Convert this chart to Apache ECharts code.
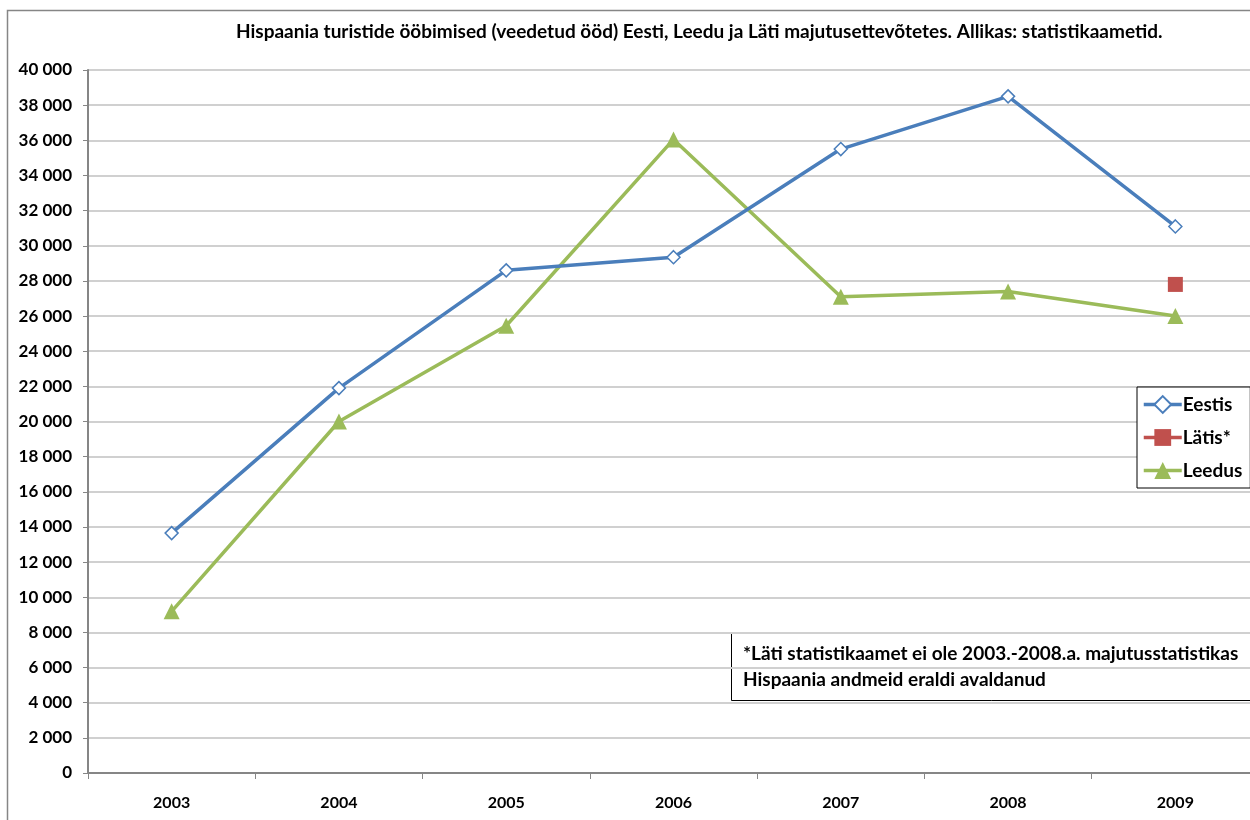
<!DOCTYPE html>
<html>
<head>
<meta charset="utf-8">
<script src="https://cdn.jsdelivr.net/npm/echarts@6/dist/echarts.min.js"></script>
<style>
  html, body { margin: 0; padding: 0; background: #fff; }
  #chart { width: 1250px; height: 820px; }
</style>
</head>
<body>
<div id="chart"></div>
<script>
  // data
  var years = ['2003', '2004', '2005', '2006', '2007', '2008', '2009'];
  var eestis = [13650, 21900, 28600, 29350, 35500, 38500, 31100];
  var latis = [null, null, null, null, null, null, 27800];
  var leedus = [9200, 20000, 25450, 36050, 27100, 27400, 26000];

  var titleText = 'Hispaania turistide ööbimised (veedetud ööd) Eesti, Leedu ja Läti majutusettevõtetes. Allikas: statistikaametid.';
  var noteLines = ['*Läti statistikaamet ei ole 2003.-2008.a. majutusstatistikas', 'Hispaania andmeid eraldi avaldanud'];

  var font = 'Lato, "Noto Sans", sans-serif';

  var myChart = echarts.init(document.getElementById('chart'));
  var option = {
    backgroundColor: '#fff',
    animation: false,
    textStyle: { fontFamily: font },
    title: {
      text: titleText,
      left: 231,
      top: 17,
      textStyle: { fontSize: 19, fontWeight: 'bold', color: '#000', fontFamily: font }
    },
    legend: {
      orient: 'vertical',
      left: 1137,
      top: 387,
      width: 130,
      padding: [8, 8, 8, 5],
      itemGap: 14,
      itemWidth: 38,
      itemHeight: 21,
      borderColor: '#000',
      borderWidth: 1,
      backgroundColor: '#fff',
      lineStyle: { width: 3.5 },
      textStyle: { fontSize: 19, fontWeight: 'bold', color: '#000', fontFamily: font, padding: [0, 0, 0, -4] },
      data: ['Eestis', 'Lätis*', 'Leedus']
    },
    grid: {
      left: 88,
      top: 70,
      width: 1171,
      height: 703,
      outerBoundsMode: 'none',
      containLabel: false
    },
    xAxis: {
      type: 'category',
      data: years,
      boundaryGap: true,
      axisLine: { lineStyle: { color: '#868686', width: 2 } },
      axisTick: { show: true, length: 6, lineStyle: { color: '#868686' } },
      axisLabel: { fontSize: 16, fontWeight: 'bold', color: '#000', margin: 22, fontFamily: font },
      splitLine: { show: false }
    },
    yAxis: {
      type: 'value',
      min: 0,
      max: 40000,
      interval: 2000,
      axisLine: { show: true, lineStyle: { color: '#868686', width: 2 } },
      axisTick: { show: true, length: 5, lineStyle: { color: '#868686' } },
      axisLabel: {
        fontSize: 17,
        fontWeight: 'bold',
        color: '#000',
        margin: 16,
        fontFamily: font,
        formatter: function (v) {
          return String(v).replace(/\B(?=(\d{3})+(?!\d))/g, ' ');
        }
      },
      splitLine: { show: true, lineStyle: { color: '#d0d0d0', width: 2 } }
    },
    series: [
      {
        name: 'Eestis',
        type: 'line',
        data: eestis,
        color: '#4A7EBB',
        symbol: 'diamond',
        symbolSize: 13,
        showAllSymbol: true,
        lineStyle: { width: 3.5, color: '#4A7EBB' },
        itemStyle: { color: '#fff', borderColor: '#4A7EBB', borderWidth: 1.5 },
        z: 3
      },
      {
        name: 'Lätis*',
        type: 'line',
        data: latis,
        color: '#C0504D',
        symbol: 'rect',
        symbolSize: 15,
        lineStyle: { width: 3.5, color: '#C0504D' },
        itemStyle: { color: '#C0504D' }
      },
      {
        name: 'Leedus',
        type: 'line',
        data: leedus,
        color: '#9BBB59',
        symbol: 'triangle',
        symbolSize: 16,
        lineStyle: { width: 3.5, color: '#9BBB59' },
        itemStyle: { color: '#9BBB59' },
        z: 2
      }
    ],
    graphic: [
      {
        type: 'rect',
        shape: { x: 7.5, y: 10.5, width: 1260, height: 830 },
        style: { fill: null, stroke: '#868686', lineWidth: 1.5 },
        silent: true,
        z: 0
      },
      {
        type: 'group',
        left: 731,
        top: 633,
        z: 100,
        children: [
          {
            type: 'rect',
            shape: { x: 0.5, y: 0.5, width: 540, height: 67 },
            style: { fill: '#fff', stroke: '#000', lineWidth: 1 }
          },
          {
            type: 'text',
            left: 12,
            top: 8,
            style: {
              text: noteLines.join('\n'),
              font: 'bold 19px ' + font,
              fill: '#000',
              lineHeight: 26
            }
          }
        ]
      }
    ]
  };
  myChart.setOption(option);
</script>
</body>
</html>
